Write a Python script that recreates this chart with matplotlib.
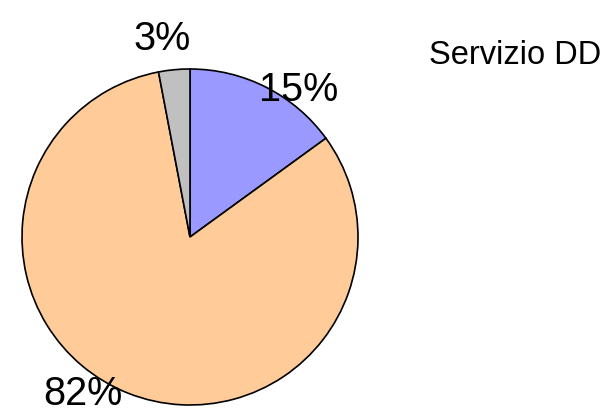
import matplotlib
matplotlib.use("Agg")
import matplotlib.pyplot as plt

# slice data
shares = [15, 82, 3]
colors = ["#9999FF", "#FFCC99", "#C0C0C0"]
labels = ["15%", "82%", "3%"]
title = "Servizio DD"

W, H = 611, 415
fig = plt.figure(figsize=(W / 100, H / 100), dpi=100)
ax = fig.add_axes([0, 0, 1, 1])

ax.pie(shares, colors=colors, startangle=90, counterclock=False,
       center=(190, H - 237), radius=168,
       wedgeprops=dict(edgecolor="black", linewidth=1.2), frame=True)
ax.set_xlim(0, W)
ax.set_ylim(0, H)
ax.set_aspect("equal")
ax.axis("off")

font = ["Liberation Sans", "DejaVu Sans"]
# label positions in pixels (x centre, baseline)
label_pos = [(299, 101), (83, 405), (162, 50)]
for (x, y), lab in zip(label_pos, labels):
    ax.text(x, H - y, lab, ha="center", va="baseline", fontsize=28.5, family=font)

ax.text(429, H - 64, title, ha="left", va="baseline", fontsize=23.5, family=font)

fig.savefig("out.png", dpi=100)
